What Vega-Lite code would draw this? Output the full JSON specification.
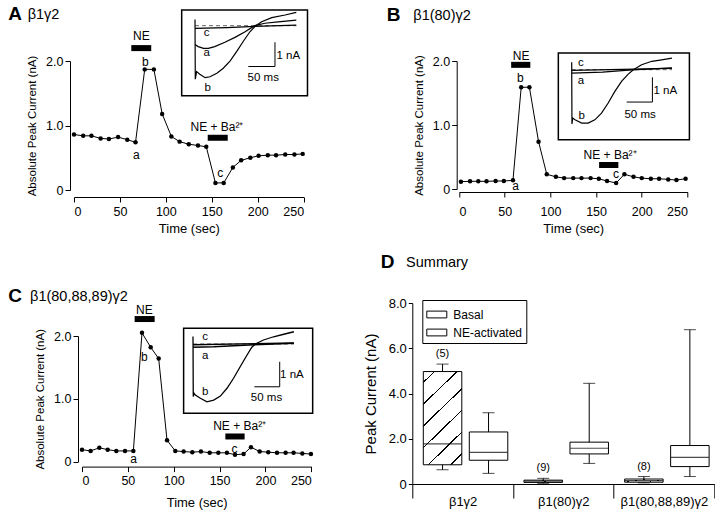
{
  "$schema": "https://vega.github.io/schema/vega-lite/v6.json",
  "padding": {"left": 8, "top": 5, "right": 0, "bottom": 0},
  "config": {
    "font": "Liberation Sans",
    "view": {"stroke": null},
    "axis": {"domainColor": "black", "tickColor": "black", "labelColor": "black", "titleColor": "black", "grid": false, "labelFont": "Liberation Sans", "titleFont": "Liberation Sans", "titleFontWeight": "normal", "labelFontSize": 12.5, "tickSize": 5, "domainWidth": 1, "tickWidth": 1},
    "text": {"font": "Liberation Sans", "color": "black"},
    "title": {"font": "Liberation Sans", "subtitleFont": "Liberation Sans", "color": "black", "subtitleColor": "black", "anchor": "start", "frame": "group", "fontSize": 19, "fontWeight": "bold", "subtitleFontSize": 14.5, "subtitlePadding": -16, "offset": 0}
  },
  "datasets": {
    "A": [{"t":0,"I":0.86},{"t":10,"I":0.84},{"t":19,"I":0.84},{"t":29,"I":0.80},{"t":38,"I":0.79},{"t":48,"I":0.82},{"t":58,"I":0.78},{"t":67,"I":0.74},{"t":77,"I":1.87},{"t":87,"I":1.87},{"t":96,"I":1.18},{"t":106,"I":0.83},{"t":115,"I":0.75},{"t":125,"I":0.71},{"t":135,"I":0.69},{"t":144,"I":0.67},{"t":154,"I":0.11},{"t":163,"I":0.11},{"t":173,"I":0.35},{"t":182,"I":0.46},{"t":192,"I":0.50},{"t":201,"I":0.53},{"t":211,"I":0.54},{"t":220,"I":0.54},{"t":230,"I":0.55},{"t":240,"I":0.55},{"t":249,"I":0.56}],
    "A_bars": [{"t":62.4,"t2":84.1,"I":2.2},{"t":145.6,"t2":167.4,"I":0.81}],
    "A_text": [{"t":67.8,"I":0.54,"label":"a"},{"t":77.6,"I":1.99,"label":"b"},{"t":159.3,"I":0.26,"label":"c"},{"t":73.3,"I":2.38,"label":"NE"},{"t":155.7,"I":0.98,"label":"NE + Ba²⁺"}],
    "A_box": [{"x1":-25,"x2":211,"y1":0.646,"y2":-2.88}],
    "A_base": [{"x1":0,"x2":190,"y1":0}],
    "A_tr": [
      {"trace":"a","ms":0,"nA":-0.77},{"trace":"a","ms":6,"nA":-0.86},{"trace":"a","ms":16,"nA":-0.93},{"trace":"a","ms":25,"nA":-0.93},{"trace":"a","ms":37,"nA":-0.86},{"trace":"a","ms":56,"nA":-0.68},{"trace":"a","ms":75,"nA":-0.48},{"trace":"a","ms":94,"nA":-0.25},{"trace":"a","ms":112,"nA":0},{"trace":"a","ms":131,"nA":0.1},{"trace":"a","ms":156,"nA":0.16},{"trace":"a","ms":190,"nA":0.23},
      {"trace":"b","ms":0,"nA":0.25},{"trace":"b","ms":0.5,"nA":-2.2},{"trace":"b","ms":3,"nA":-1.89},{"trace":"b","ms":9,"nA":-2.0},{"trace":"b","ms":19,"nA":-2.14},{"trace":"b","ms":28,"nA":-2.1},{"trace":"b","ms":41,"nA":-1.96},{"trace":"b","ms":53,"nA":-1.75},{"trace":"b","ms":66,"nA":-1.45},{"trace":"b","ms":78,"nA":-1.07},{"trace":"b","ms":91,"nA":-0.63},{"trace":"b","ms":103,"nA":-0.25},{"trace":"b","ms":114,"nA":0},{"trace":"b","ms":125,"nA":0.16},{"trace":"b","ms":144,"nA":0.33},{"trace":"b","ms":169,"nA":0.44},{"trace":"b","ms":190,"nA":0.55},
      {"trace":"c","ms":0,"nA":-0.11},{"trace":"c","ms":60,"nA":-0.08},{"trace":"c","ms":112,"nA":-0.03},{"trace":"c","ms":190,"nA":0.02}
    ],
    "A_sb": [{"x1":150,"x2":150,"y1":-0.68,"y2":-1.68},{"x1":100,"x2":150,"y1":-1.68,"y2":-1.68}],
    "A_lab": [{"ms":22,"nA":-0.32,"label":"c"},{"ms":22,"nA":-1.14,"label":"a"},{"ms":24,"nA":-2.58,"label":"b"},{"ms":175,"nA":-1.23,"label":"1 nA"},{"ms":128,"nA":-2.14,"label":"50 ms"}],

    "B": [{"t":2,"I":0.115},{"t":12,"I":0.12},{"t":21,"I":0.12},{"t":30,"I":0.12},{"t":40,"I":0.125},{"t":49,"I":0.125},{"t":59,"I":0.135},{"t":68,"I":1.59},{"t":77,"I":1.59},{"t":87,"I":0.74},{"t":96,"I":0.23},{"t":106,"I":0.19},{"t":115,"I":0.17},{"t":125,"I":0.17},{"t":134,"I":0.17},{"t":144,"I":0.17},{"t":153,"I":0.16},{"t":162,"I":0.125},{"t":172,"I":0.094},{"t":181,"I":0.23},{"t":191,"I":0.19},{"t":200,"I":0.17},{"t":210,"I":0.16},{"t":219,"I":0.16},{"t":229,"I":0.15},{"t":238,"I":0.14},{"t":248,"I":0.16}],
    "B_bars": [{"t":57,"t2":78,"I":1.94},{"t":153.3,"t2":174.4,"I":0.375}],
    "B_text": [{"t":61.8,"I":0.04,"label":"a"},{"t":67.2,"I":1.74,"label":"b"},{"t":171.9,"I":0.23,"label":"c"},{"t":68,"I":2.08,"label":"NE"},{"t":165.3,"I":0.53,"label":"NE + Ba²⁺"}],
    "B_box": [{"x1":-26,"x2":229,"y1":0.68,"y2":-2.84}],
    "B_base": [{"x1":0,"x2":195,"y1":0}],
    "B_tr": [
      {"trace":"a","ms":0,"nA":-0.14},{"trace":"a","ms":60,"nA":-0.1},{"trace":"a","ms":117,"nA":-0.01},{"trace":"a","ms":195,"nA":0.07},
      {"trace":"b","ms":0,"nA":0.3},{"trace":"b","ms":0.5,"nA":-2.2},{"trace":"b","ms":2,"nA":-1.96},{"trace":"b","ms":6.5,"nA":-2.03},{"trace":"b","ms":19.5,"nA":-2.16},{"trace":"b","ms":32,"nA":-2.16},{"trace":"b","ms":45,"nA":-2.03},{"trace":"b","ms":58,"nA":-1.76},{"trace":"b","ms":71,"nA":-1.35},{"trace":"b","ms":84,"nA":-0.88},{"trace":"b","ms":97,"nA":-0.47},{"trace":"b","ms":110,"nA":-0.18},{"trace":"b","ms":120,"nA":0},{"trace":"b","ms":136,"nA":0.2},{"trace":"b","ms":156,"nA":0.34},{"trace":"b","ms":175,"nA":0.4},{"trace":"b","ms":195,"nA":0.47},
      {"trace":"c","ms":0,"nA":-0.03},{"trace":"c","ms":195,"nA":0.05}
    ],
    "B_sb": [{"x1":157,"x2":157,"y1":-0.31,"y2":-1.31},{"x1":107,"x2":157,"y1":-1.31,"y2":-1.31}],
    "B_lab": [{"ms":18,"nA":0.27,"label":"c"},{"ms":18,"nA":-0.47,"label":"a"},{"ms":19.5,"nA":-1.89,"label":"b"},{"ms":182,"nA":-0.88,"label":"1 nA"},{"ms":133,"nA":-1.82,"label":"50 ms"}],

    "C": [{"t":0,"I":0.19},{"t":9.4,"I":0.17},{"t":18.9,"I":0.22},{"t":28,"I":0.19},{"t":37.4,"I":0.17},{"t":46.9,"I":0.17},{"t":56,"I":0.17},{"t":65.4,"I":2.05},{"t":74.9,"I":1.82},{"t":83.6,"I":1.64},{"t":92.7,"I":0.34},{"t":101.7,"I":0.17},{"t":110.8,"I":0.16},{"t":120.3,"I":0.15},{"t":129.7,"I":0.16},{"t":139.2,"I":0.14},{"t":148.6,"I":0.14},{"t":158,"I":0.14},{"t":166.8,"I":0.11},{"t":176.2,"I":0.12},{"t":184.2,"I":0.23},{"t":193.7,"I":0.16},{"t":203.1,"I":0.15},{"t":212.6,"I":0.14},{"t":222,"I":0.14},{"t":230.7,"I":0.14},{"t":240.2,"I":0.13},{"t":249.6,"I":0.12}],
    "C_bars": [{"t":57.4,"t2":79.2,"I":2.27},{"t":156.3,"t2":177.3,"I":0.4}],
    "C_text": [{"t":56.3,"I":0.04,"label":"a"},{"t":68,"I":1.66,"label":"b"},{"t":166.4,"I":0.2,"label":"c"},{"t":68,"I":2.42,"label":"NE"},{"t":171.9,"I":0.57,"label":"NE + Ba²⁺"}],
    "C_box": [{"x1":-18.5,"x2":236,"y1":0.63,"y2":-2.77}],
    "C_base": [{"x1":0,"x2":199,"y1":0}],
    "C_tr": [
      {"trace":"a","ms":0,"nA":-0.13},{"trace":"a","ms":41,"nA":-0.11},{"trace":"a","ms":120,"nA":-0.03},{"trace":"a","ms":199,"nA":0.03},
      {"trace":"c","ms":0,"nA":-0.03},{"trace":"c","ms":199,"nA":0.04},
      {"trace":"b","ms":0,"nA":0.3},{"trace":"b","ms":0.5,"nA":-2.1},{"trace":"b","ms":2,"nA":-1.97},{"trace":"b","ms":4.6,"nA":-2.04},{"trace":"b","ms":14.5,"nA":-2.17},{"trace":"b","ms":27.6,"nA":-2.31},{"trace":"b","ms":40.8,"nA":-2.24},{"trace":"b","ms":54,"nA":-2.08},{"trace":"b","ms":67,"nA":-1.77},{"trace":"b","ms":80,"nA":-1.37},{"trace":"b","ms":93,"nA":-0.91},{"trace":"b","ms":106.6,"nA":-0.44},{"trace":"b","ms":116,"nA":-0.13},{"trace":"b","ms":123,"nA":0},{"trace":"b","ms":139,"nA":0.16},{"trace":"b","ms":159,"nA":0.29},{"trace":"b","ms":179,"nA":0.39},{"trace":"b","ms":199,"nA":0.49}
    ],
    "C_sb": [{"x1":171,"x2":171,"y1":-0.71,"y2":-1.71},{"x1":121,"x2":171,"y1":-1.71,"y2":-1.71}],
    "C_lab": [{"ms":24,"nA":0.27,"label":"c"},{"ms":24,"nA":-0.48,"label":"a"},{"ms":24,"nA":-1.91,"label":"b"},{"ms":195,"nA":-1.24,"label":"1 nA"},{"ms":145,"nA":-2.17,"label":"50 ms"}],

    "D": [
      {"g":"β1γ2","cond":"Basal","lo":0.63,"q1":0.85,"med":1.77,"q3":4.97,"hi":5.3,"n":"(5)"},
      {"g":"β1γ2","cond":"NE-activated","lo":0.47,"q1":1.05,"med":1.4,"q3":2.3,"hi":3.15,"n":""},
      {"g":"β1(80)γ2","cond":"Basal","lo":0.03,"q1":0.07,"med":0.13,"q3":0.17,"hi":0.25,"n":"(9)"},
      {"g":"β1(80)γ2","cond":"NE-activated","lo":0.91,"q1":1.33,"med":1.58,"q3":1.85,"hi":4.45,"n":""},
      {"g":"β1(80,88,89)γ2","cond":"Basal","lo":0.05,"q1":0.08,"med":0.15,"q3":0.22,"hi":0.33,"n":"(8)"},
      {"g":"β1(80,88,89)γ2","cond":"NE-activated","lo":0.33,"q1":0.77,"med":1.18,"q3":1.7,"hi":6.82,"n":""}
    ]
  },
  "spacing": 48.3,
  "hconcat": [
    {
      "spacing": 50,
      "vconcat": [
        {
          "width": 229.6, "height": 129,
          "title": {"text": "A", "subtitle": "\u200b\u2003\u2004β1γ2", "dx": -65.7, "dy": 19},
          "layer": [
            {"layer": [
              {"data": {"name": "A"}, "mark": {"type": "line", "color": "black", "strokeWidth": 1},
               "encoding": {
                 "x": {"field": "t", "type": "quantitative", "title": "Time (sec)", "scale": {"domain": [0, 250], "nice": false}, "axis": {"values": [0, 50, 100, 150, 200, 250], "offset": 7, "labelPadding": 3, "titlePadding": 5, "titleFontSize": 13}},
                 "y": {"field": "I", "type": "quantitative", "title": "Absolute Peak Current (nA)", "scale": {"domain": [0, 2], "nice": false}, "axis": {"values": [0, 0.5, 1, 1.5, 2], "labelExpr": "datum.value === 0 ? '0' : format(datum.value, '.1f')", "offset": 4, "labelPadding": 2, "titlePadding": 8, "titleFontSize": 11.5}}}},
              {"data": {"name": "A"}, "mark": {"type": "circle", "size": 20, "color": "black", "opacity": 1},
               "encoding": {"x": {"field": "t", "type": "quantitative", "title": "Time (sec)"}, "y": {"field": "I", "type": "quantitative", "title": "Absolute Peak Current (nA)"}}},
              {"data": {"name": "A_bars"}, "mark": {"type": "rule", "color": "black", "strokeWidth": 6, "strokeCap": "butt"},
               "encoding": {"x": {"field": "t", "type": "quantitative", "title": "Time (sec)"}, "x2": {"field": "t2"}, "y": {"field": "I", "type": "quantitative", "title": "Absolute Peak Current (nA)"}}},
              {"data": {"name": "A_text"}, "mark": {"type": "text", "fontSize": 12, "color": "black"},
               "encoding": {"x": {"field": "t", "type": "quantitative", "title": "Time (sec)"}, "y": {"field": "I", "type": "quantitative", "title": "Absolute Peak Current (nA)"}, "text": {"field": "label"}}}
            ]},
            {"layer": [
              {"data": {"name": "A_box"}, "mark": {"type": "rect", "fill": "white", "stroke": "black", "strokeWidth": 1.5},
               "encoding": {"x": {"field": "x1", "type": "quantitative", "scale": {"domain": [-227, 203.7], "nice": false, "zero": false}, "axis": null}, "x2": {"field": "x2"}, "y": {"field": "y1", "type": "quantitative", "scale": {"domain": [-6.76, -1.453], "nice": false, "zero": false}, "axis": null}, "y2": {"field": "y2"}}},
              {"data": {"name": "A_base"}, "mark": {"type": "rule", "color": "#666", "strokeDash": [4, 3], "strokeWidth": 1},
               "encoding": {"x": {"field": "x1", "type": "quantitative", "axis": null}, "x2": {"field": "x2"}, "y": {"field": "y1", "type": "quantitative", "axis": null}}},
              {"data": {"name": "A_tr"}, "mark": {"type": "line", "color": "black", "strokeWidth": 1.2},
               "encoding": {"x": {"field": "ms", "type": "quantitative", "axis": null}, "y": {"field": "nA", "type": "quantitative", "axis": null}, "detail": {"field": "trace"}}},
              {"data": {"name": "A_sb"}, "mark": {"type": "rule", "color": "black", "strokeWidth": 1},
               "encoding": {"x": {"field": "x1", "type": "quantitative", "axis": null}, "x2": {"field": "x2"}, "y": {"field": "y1", "type": "quantitative", "axis": null}, "y2": {"field": "y2"}}},
              {"data": {"name": "A_lab"}, "mark": {"type": "text", "fontSize": 11.5, "color": "black"},
               "encoding": {"x": {"field": "ms", "type": "quantitative", "axis": null}, "y": {"field": "nA", "type": "quantitative", "axis": null}, "text": {"field": "label"}}}
            ]}
          ],
          "resolve": {"scale": {"x": "independent", "y": "independent"}}
        },
        {
          "width": 237.3, "height": 125.6,
          "title": {"text": "C", "subtitle": "\u200b\u2003\u2002β1(80,88,89)γ2", "dx": -65.7, "dy": 6},
          "layer": [
            {"layer": [
              {"data": {"name": "C"}, "mark": {"type": "line", "color": "black", "strokeWidth": 1},
               "encoding": {
                 "x": {"field": "t", "type": "quantitative", "title": "Time (sec)", "scale": {"domain": [0, 250], "range": [8, 237.3], "nice": false}, "axis": {"values": [0, 50, 100, 150, 200, 250], "offset": 5, "labelPadding": 3, "titlePadding": 9, "titleFontSize": 13}},
                 "y": {"field": "I", "type": "quantitative", "title": "Absolute Peak Current (nA)", "scale": {"domain": [0, 2], "nice": false}, "axis": {"values": [0, 0.5, 1, 1.5, 2], "labelExpr": "datum.value === 0 ? '0' : format(datum.value, '.1f')", "offset": -4, "labelPadding": 2, "titlePadding": 8, "titleFontSize": 11.5}}}},
              {"data": {"name": "C"}, "mark": {"type": "circle", "size": 20, "color": "black", "opacity": 1},
               "encoding": {"x": {"field": "t", "type": "quantitative", "title": "Time (sec)"}, "y": {"field": "I", "type": "quantitative", "title": "Absolute Peak Current (nA)"}}},
              {"data": {"name": "C_bars"}, "mark": {"type": "rule", "color": "black", "strokeWidth": 6, "strokeCap": "butt"},
               "encoding": {"x": {"field": "t", "type": "quantitative", "title": "Time (sec)"}, "x2": {"field": "t2"}, "y": {"field": "I", "type": "quantitative", "title": "Absolute Peak Current (nA)"}}},
              {"data": {"name": "C_text"}, "mark": {"type": "text", "fontSize": 12, "color": "black"},
               "encoding": {"x": {"field": "t", "type": "quantitative", "title": "Time (sec)"}, "y": {"field": "I", "type": "quantitative", "title": "Absolute Peak Current (nA)"}, "text": {"field": "label"}}}
            ]},
            {"layer": [
              {"data": {"name": "C_box"}, "mark": {"type": "rect", "fill": "white", "stroke": "black", "strokeWidth": 1.5},
               "encoding": {"x": {"field": "x1", "type": "quantitative", "scale": {"domain": [-234.7, 233.3], "nice": false, "zero": false}, "axis": null}, "x2": {"field": "x2"}, "y": {"field": "y1", "type": "quantitative", "scale": {"domain": [-4.70, 0.32], "nice": false, "zero": false}, "axis": null}, "y2": {"field": "y2"}}},
              {"data": {"name": "C_base"}, "mark": {"type": "rule", "color": "#666", "strokeDash": [4, 3], "strokeWidth": 1},
               "encoding": {"x": {"field": "x1", "type": "quantitative", "axis": null}, "x2": {"field": "x2"}, "y": {"field": "y1", "type": "quantitative", "axis": null}}},
              {"data": {"name": "C_tr"}, "mark": {"type": "line", "color": "black", "strokeWidth": 1.3},
               "encoding": {"x": {"field": "ms", "type": "quantitative", "axis": null}, "y": {"field": "nA", "type": "quantitative", "axis": null}, "detail": {"field": "trace"}}},
              {"data": {"name": "C_sb"}, "mark": {"type": "rule", "color": "black", "strokeWidth": 1},
               "encoding": {"x": {"field": "x1", "type": "quantitative", "axis": null}, "x2": {"field": "x2"}, "y": {"field": "y1", "type": "quantitative", "axis": null}, "y2": {"field": "y2"}}},
              {"data": {"name": "C_lab"}, "mark": {"type": "text", "fontSize": 11.5, "color": "black"},
               "encoding": {"x": {"field": "ms", "type": "quantitative", "axis": null}, "y": {"field": "nA", "type": "quantitative", "axis": null}, "text": {"field": "label"}}}
            ]}
          ],
          "resolve": {"scale": {"x": "independent", "y": "independent"}}
        }
      ]
    },
    {
      "spacing": 17,
      "vconcat": [
        {
          "width": 275.1, "height": 128,
          "title": {"text": "B", "subtitle": "\u200b\u2003\u2002\u2004β1(80)γ2", "dx": -25.6, "dy": -20.5},
          "layer": [
            {"layer": [
              {"data": {"name": "B"}, "mark": {"type": "line", "color": "black", "strokeWidth": 1},
               "encoding": {
                 "x": {"field": "t", "type": "quantitative", "title": "Time (sec)", "scale": {"domain": [0, 250], "range": [46.8, 275.1], "nice": false}, "axis": {"values": [0, 50, 100, 150, 200, 250], "offset": 3, "labelPadding": 8, "titlePadding": 5, "titleFontSize": 13}},
                 "y": {"field": "I", "type": "quantitative", "title": "Absolute Peak Current (nA)", "scale": {"domain": [0, 2], "nice": false}, "axis": {"values": [0, 0.5, 1, 1.5, 2], "labelExpr": "datum.value === 0 ? '0' : format(datum.value, '.1f')", "offset": -44.4, "labelPadding": 2, "titlePadding": 8, "titleFontSize": 11.5}}}},
              {"data": {"name": "B"}, "mark": {"type": "circle", "size": 20, "color": "black", "opacity": 1},
               "encoding": {"x": {"field": "t", "type": "quantitative", "title": "Time (sec)"}, "y": {"field": "I", "type": "quantitative", "title": "Absolute Peak Current (nA)"}}},
              {"data": {"name": "B_bars"}, "mark": {"type": "rule", "color": "black", "strokeWidth": 6, "strokeCap": "butt"},
               "encoding": {"x": {"field": "t", "type": "quantitative", "title": "Time (sec)"}, "x2": {"field": "t2"}, "y": {"field": "I", "type": "quantitative", "title": "Absolute Peak Current (nA)"}}},
              {"data": {"name": "B_text"}, "mark": {"type": "text", "fontSize": 12, "color": "black"},
               "encoding": {"x": {"field": "t", "type": "quantitative", "title": "Time (sec)"}, "y": {"field": "I", "type": "quantitative", "title": "Absolute Peak Current (nA)"}, "text": {"field": "label"}}}
            ]},
            {"layer": [
              {"data": {"name": "B_box"}, "mark": {"type": "rect", "fill": "white", "stroke": "black", "strokeWidth": 1.5},
               "encoding": {"x": {"field": "x1", "type": "quantitative", "scale": {"domain": [-310.1, 225.1], "nice": false, "zero": false}, "axis": null}, "x2": {"field": "x2"}, "y": {"field": "y1", "type": "quantitative", "scale": {"domain": [-4.83, 0.352], "nice": false, "zero": false}, "axis": null}, "y2": {"field": "y2"}}},
              {"data": {"name": "B_base"}, "mark": {"type": "rule", "color": "#666", "strokeDash": [4, 3], "strokeWidth": 1},
               "encoding": {"x": {"field": "x1", "type": "quantitative", "axis": null}, "x2": {"field": "x2"}, "y": {"field": "y1", "type": "quantitative", "axis": null}}},
              {"data": {"name": "B_tr"}, "mark": {"type": "line", "color": "black", "strokeWidth": 1.2},
               "encoding": {"x": {"field": "ms", "type": "quantitative", "axis": null}, "y": {"field": "nA", "type": "quantitative", "axis": null}, "detail": {"field": "trace"}}},
              {"data": {"name": "B_sb"}, "mark": {"type": "rule", "color": "black", "strokeWidth": 1},
               "encoding": {"x": {"field": "x1", "type": "quantitative", "axis": null}, "x2": {"field": "x2"}, "y": {"field": "y1", "type": "quantitative", "axis": null}, "y2": {"field": "y2"}}},
              {"data": {"name": "B_lab"}, "mark": {"type": "text", "fontSize": 11.5, "color": "black"},
               "encoding": {"x": {"field": "ms", "type": "quantitative", "axis": null}, "y": {"field": "nA", "type": "quantitative", "axis": null}, "text": {"field": "label"}}}
            ]}
          ],
          "resolve": {"scale": {"x": "independent", "y": "independent"}}
        },
        {
          "width": 302, "height": 181,
          "title": {"text": "D", "subtitle": "\u200b\u2003\u2002\u2005Summary", "dx": -31.6, "dy": -21},
          "data": {"name": "D"},
          "layer": [
            {"mark": {"type": "rule", "color": "black", "strokeWidth": 1},
             "encoding": {
               "x": {"field": "g", "type": "nominal", "title": null, "sort": null, "scale": {"domain": ["β1γ2", "β1(80)γ2", "β1(80,88,89)γ2"], "paddingInner": 0, "paddingOuter": 0}, "axis": {"labelAngle": 0, "tickBand": "extent", "tickSize": 14, "labelPadding": -3, "labelFontSize": 13}},
               "xOffset": {"field": "cond", "type": "nominal", "scale": {"domain": ["Basal", "NE-activated"], "paddingInner": 0.163, "paddingOuter": 0.176, "align": 0.68}},
               "y": {"field": "lo", "type": "quantitative", "title": "Peak Current (nA)", "scale": {"domain": [0, 8], "nice": false}, "axis": {"values": [0, 1, 2, 3, 4, 5, 6, 7, 8], "labelExpr": "datum.value === 0 ? '0' : format(datum.value, '.1f')", "labelFontSize": 13, "titleFontSize": 15, "tickSize": 4, "labelPadding": 2, "titlePadding": 10}},
               "y2": {"field": "hi"}}},
            {"mark": {"type": "bar", "stroke": "black", "strokeWidth": 1, "opacity": 1},
             "encoding": {
               "x": {"field": "g", "type": "nominal", "title": null, "sort": null},
               "xOffset": {"field": "cond", "type": "nominal"},
               "y": {"field": "q1", "type": "quantitative", "title": "Peak Current (nA)"},
               "y2": {"field": "q3"},
               "fill": {"condition": {"test": "datum.cond === 'Basal'", "value": {"gradient": "linear", "x1": 0, "y1": 0, "x2": 0.483, "y2": 1.207, "stops": [
                  {"offset": 0, "color": "white"}, {"offset": 0.077, "color": "white"}, {"offset": 0.077, "color": "black"}, {"offset": 0.089, "color": "black"}, {"offset": 0.089, "color": "white"},
                  {"offset": 0.244, "color": "white"}, {"offset": 0.244, "color": "black"}, {"offset": 0.256, "color": "black"}, {"offset": 0.256, "color": "white"},
                  {"offset": 0.411, "color": "white"}, {"offset": 0.411, "color": "black"}, {"offset": 0.423, "color": "black"}, {"offset": 0.423, "color": "white"},
                  {"offset": 0.577, "color": "white"}, {"offset": 0.577, "color": "black"}, {"offset": 0.589, "color": "black"}, {"offset": 0.589, "color": "white"},
                  {"offset": 0.744, "color": "white"}, {"offset": 0.744, "color": "black"}, {"offset": 0.756, "color": "black"}, {"offset": 0.756, "color": "white"},
                  {"offset": 0.911, "color": "white"}, {"offset": 0.911, "color": "black"}, {"offset": 0.923, "color": "black"}, {"offset": 0.923, "color": "white"},
                  {"offset": 1, "color": "white"}]}},
                 "field": "cond", "type": "nominal", "scale": {"domain": ["Basal", "NE-activated"], "range": ["white", "white"]},
                 "legend": {"title": null, "orient": "none", "legendX": 348.3, "legendY": 239, "strokeColor": "black", "fillColor": "white", "padding": 4, "symbolType": "M-1,-0.34H1V0.34H-1Z", "symbolSize": 400, "symbolStrokeColor": "black", "symbolStrokeWidth": 1, "symbolOpacity": 1, "labelFontSize": 12, "labelOffset": 6, "rowPadding": 1, "labelColor": "black"}}}},
            {"mark": {"type": "tick", "orient": "horizontal", "color": "black", "size": 38, "thickness": 1.2},
             "encoding": {"x": {"field": "g", "type": "nominal", "title": null, "sort": null}, "xOffset": {"field": "cond", "type": "nominal"}, "y": {"field": "med", "type": "quantitative", "title": "Peak Current (nA)"}}},
            {"mark": {"type": "tick", "orient": "horizontal", "color": "black", "size": 12, "thickness": 1},
             "encoding": {"x": {"field": "g", "type": "nominal", "title": null, "sort": null}, "xOffset": {"field": "cond", "type": "nominal"}, "y": {"field": "lo", "type": "quantitative", "title": "Peak Current (nA)"}}},
            {"mark": {"type": "tick", "orient": "horizontal", "color": "black", "size": 12, "thickness": 1},
             "encoding": {"x": {"field": "g", "type": "nominal", "title": null, "sort": null}, "xOffset": {"field": "cond", "type": "nominal"}, "y": {"field": "hi", "type": "quantitative", "title": "Peak Current (nA)"}}},
            {"mark": {"type": "text", "fontSize": 11, "dy": -10, "color": "black"},
             "encoding": {"x": {"field": "g", "type": "nominal", "title": null, "sort": null}, "xOffset": {"field": "cond", "type": "nominal"}, "y": {"field": "hi", "type": "quantitative", "title": "Peak Current (nA)"}, "text": {"field": "n"}}}
          ]
        }
      ]
    }
  ]
}
